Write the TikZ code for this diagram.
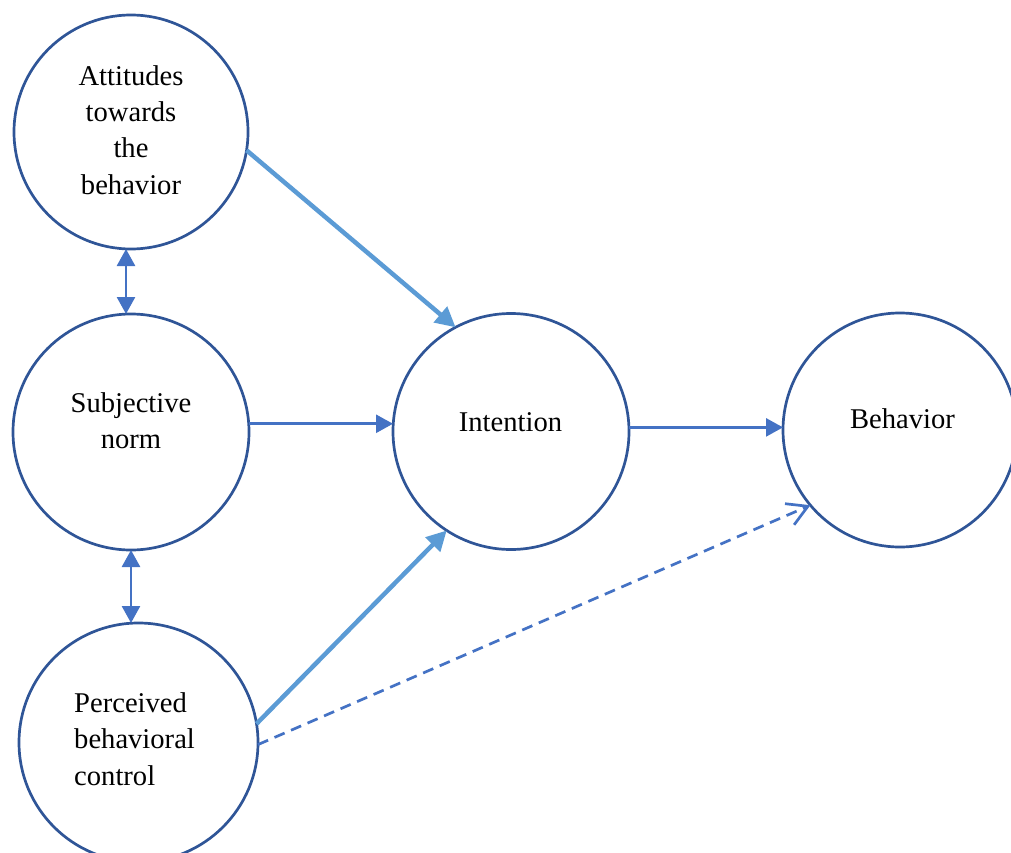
\documentclass[tikz,border=0pt]{standalone}
\usepackage{fontspec}
\setmainfont{Liberation Serif}
\usetikzlibrary{arrows.meta}
\definecolor{ring}{HTML}{2F5597}
\definecolor{lightarr}{HTML}{5B9BD5}
\definecolor{midarr}{HTML}{4472C4}
\begin{document}
\begin{tikzpicture}[x=1pt,y=-1pt,
  circ/.style={circle,draw=ring,line width=2.7pt,inner sep=0pt,outer sep=0pt,fill=none},
  lbl/.style={inner sep=0pt,anchor=base,font=\fontsize{28.6}{36}\selectfont},
  lbll/.style={inner sep=0pt,anchor=base west,font=\fontsize{28.6}{36}\selectfont},
  thick arrow/.style={draw=lightarr,line width=4.5pt,-{Triangle[length=20pt,width=20pt]}},
  mid arrow/.style={draw=midarr,line width=2.7pt,-{Triangle[length=17pt,width=18pt]}},
  both arrow/.style={draw=midarr,line width=2.7pt,{Triangle[length=17pt,width=18pt]}-{Triangle[length=17pt,width=18pt]}},
  dash arrow/.style={draw=midarr,line width=2.7pt,dash pattern=on 11pt off 7pt,-{Straight Barb[length=20pt,width=23pt,line width=2.7pt]}}
]
\useasboundingbox (0,0) rectangle (1011,853);
\clip (0,0) rectangle (1011,853);

% circles
\node[circ,minimum size=234pt] (A) at (131,132) {};
\node[circ,minimum size=236pt] (S) at (131,432) {};
\node[circ,minimum size=239pt] (P) at (138.5,742.5) {};
\node[circ,minimum size=236pt] (I) at (511,431.5) {};
\node[circ,minimum size=234pt] (B) at (900,430) {};

% texts
\node[lbl] (A1) at (131,86) {Attitudes};
\node[lbl] (A2) at (131,122) {towards};
\node[lbl] (A3) at (131,158) {the};
\node[lbl] (A4) at (131,194) {behavior};
\node[lbl] (S1) at (131,412) {Subjective};
\node[lbl] (S2) at (131,448) {norm};
\node[lbll] (P1) at (74,712) {Perceived};
\node[lbll] (P2) at (74,748) {behavioral};
\node[lbll] (P3) at (74,785) {control};
\node[lbl] (I1) at (510.5,431) {Intention};
\node[lbl] (B1) at (902.5,428) {Behavior};

% connectors
\draw[thick arrow] (A.-9.5) -- (I.118.4);
\draw[mid arrow] (S.4.9) -- (S.4.9 -| I.west);
\draw[thick arrow] (P.9.7) -- (I.237);
\draw[mid arrow] (I.2.6) -- (I.2.6 -| B.west);
\draw[dash arrow] (P.-1.2) -- (B.220.9);
\draw[both arrow] ([xshift=-5pt]A.south) -- ([xshift=-5pt]S.north);
\draw[both arrow] (S.south) -- (S.south |- P.north);
\end{tikzpicture}
\end{document}
